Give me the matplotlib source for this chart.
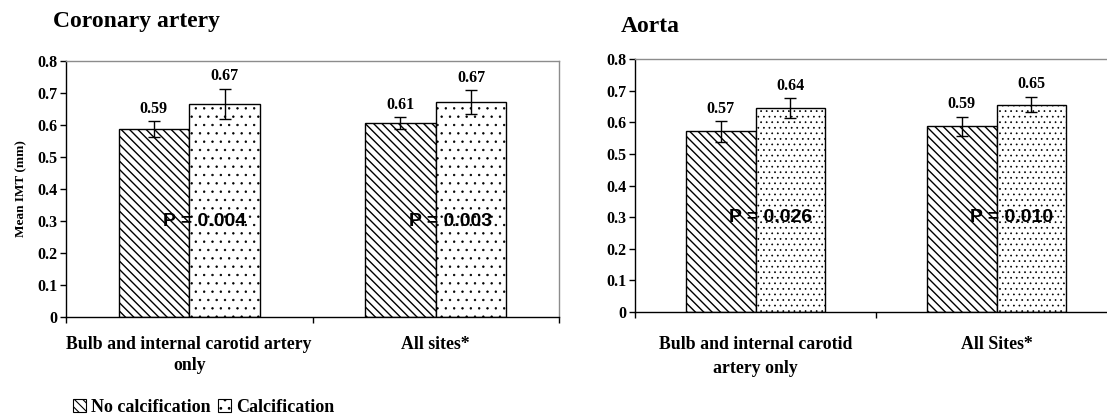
import matplotlib
matplotlib.use("Agg")
import matplotlib.pyplot as plt
from matplotlib.patches import Rectangle
import numpy as np

# ---- data ----
categories_left = ["Bulb and internal carotid artery\nonly", "All sites*"]
categories_right = ["Bulb and internal carotid\nartery only", "All Sites*"]
series_names = ["No calcification", "Calcification"]

coronary_nocalc = [0.588, 0.606]
coronary_calc = [0.666, 0.672]
coronary_nocalc_err = [0.024, 0.020]
coronary_calc_err = [0.048, 0.038]
coronary_labels_nocalc = ["0.59", "0.61"]
coronary_labels_calc = ["0.67", "0.67"]
coronary_p = ["P = 0.004", "P = 0.003"]

aorta_nocalc = [0.571, 0.587]
aorta_calc = [0.644, 0.656]
aorta_nocalc_err = [0.033, 0.031]
aorta_calc_err = [0.032, 0.025]
aorta_labels_nocalc = ["0.57", "0.59"]
aorta_labels_calc = ["0.64", "0.65"]
aorta_p = ["P = 0.026", "P = 0.010"]

yticks = [0, 0.1, 0.2, 0.3, 0.4, 0.5, 0.6, 0.7, 0.8]
ytick_labels = ["0", "0.1", "0.2", "0.3", "0.4", "0.5", "0.6", "0.7", "0.8"]

SERIF = "Liberation Serif"
SANS = "Liberation Sans"

plt.rcParams["hatch.linewidth"] = 0.8

W, H = 1107, 416
fig = plt.figure(figsize=(W / 100, H / 100), dpi=100)


def px_axes(l, t, r, b):
    return fig.add_axes([l / W, (H - b) / H, (r - l) / W, (b - t) / H])


def draw(ax, cats, nocalc, calc, e1, e2, lab1, lab2, pvals, title, title_xy, dot_hatch, ylabel,
         cat_pad, cat_ls):
    x = np.arange(len(cats))
    w = 0.287
    with plt.rc_context({"hatch.linewidth": 1.0}):
        ax.bar(x - w / 2, nocalc, w, color="white", edgecolor="black", hatch="\\\\\\\\",
               linewidth=1.0, zorder=2)
    with plt.rc_context({"hatch.linewidth": 0.5}):
        ax.bar(x + w / 2, calc, w, color="white", edgecolor="black", hatch=dot_hatch,
               linewidth=1.0, zorder=2)
    ax.errorbar(x - w / 2, nocalc, yerr=e1, fmt="none", ecolor="black", elinewidth=1,
                capsize=4, capthick=1, zorder=3)
    ax.errorbar(x + w / 2, calc, yerr=e2, fmt="none", ecolor="black", elinewidth=1,
                capsize=4, capthick=1, zorder=3)
    for i in range(len(cats)):
        ax.annotate(lab1[i], (x[i] - w / 2, nocalc[i] + e1[i]), xytext=(0, 3),
                    textcoords="offset points", ha="center", va="bottom",
                    family=SERIF, fontweight="bold", fontsize=11.5)
        ax.annotate(lab2[i], (x[i] + w / 2, calc[i] + e2[i]), xytext=(0, 3),
                    textcoords="offset points", ha="center", va="bottom",
                    family=SERIF, fontweight="bold", fontsize=11.5)
        ax.text(x[i] + 0.062, 0.30, pvals[i], ha="center", va="center",
                family=SANS, fontweight="bold", fontsize=14, zorder=4)
    ax.set_xlim(-0.5, 1.5)
    ax.set_ylim(0, 0.8)
    ax.set_yticks(yticks)
    ax.set_yticklabels(ytick_labels, family=SERIF, fontweight="bold", fontsize=11.5)
    ax.set_xticks(x)
    ax.set_xticklabels(cats, family=SERIF, fontweight="bold", fontsize=12.8, linespacing=cat_ls)
    ax.set_xticks([-0.5, 0.5, 1.5], minor=True)
    ax.tick_params(axis="x", which="major", length=0, pad=cat_pad)
    ax.tick_params(axis="x", which="minor", length=4, direction="out", width=1)
    ax.tick_params(axis="y", length=4, direction="out", width=1, pad=2)
    for s in ("left", "bottom"):
        ax.spines[s].set_color("black")
        ax.spines[s].set_linewidth(1.0)
    for s in ("top", "right"):
        ax.spines[s].set_color("#8c8c8c")
        ax.spines[s].set_linewidth(1.0)
    if ylabel:
        ax.set_ylabel(ylabel, family=SERIF, fontweight="bold", fontsize=9.5, labelpad=7)
    fig.text(title_xy[0] / W, 1 - title_xy[1] / H, title, family=SERIF, fontweight="bold",
             fontsize=17, ha="left", va="center")


ax1 = px_axes(66, 61, 559, 317)
draw(ax1, categories_left, coronary_nocalc, coronary_calc, coronary_nocalc_err, coronary_calc_err,
     coronary_labels_nocalc, coronary_labels_calc, coronary_p, "Coronary artery", (53, 21), "..",
     "Mean IMT (mm)", 14, 1.25)

ax2 = px_axes(635, 59, 1117, 312)
draw(ax2, categories_right, aorta_nocalc, aorta_calc, aorta_nocalc_err, aorta_calc_err,
     aorta_labels_nocalc, aorta_labels_calc, aorta_p, "Aorta", (621, 27), "...", None,
     17, 1.55)

handles = [Rectangle((0, 0), 1, 1, facecolor="white", edgecolor="black", hatch="\\\\\\\\", linewidth=0.8),
           Rectangle((0, 0), 1, 1, facecolor="white", edgecolor="black", hatch="..", linewidth=0.8)]
fig.legend(handles, series_names, loc="center left", bbox_to_anchor=(73 / W, 1 - 407 / H),
           ncol=2, frameon=False, handlelength=0.7, handleheight=0.7, handletextpad=0.3,
           columnspacing=0.4, borderpad=0, borderaxespad=0,
           prop={"family": SERIF, "weight": "bold", "size": 13})

fig.savefig("out.png", dpi=100)
